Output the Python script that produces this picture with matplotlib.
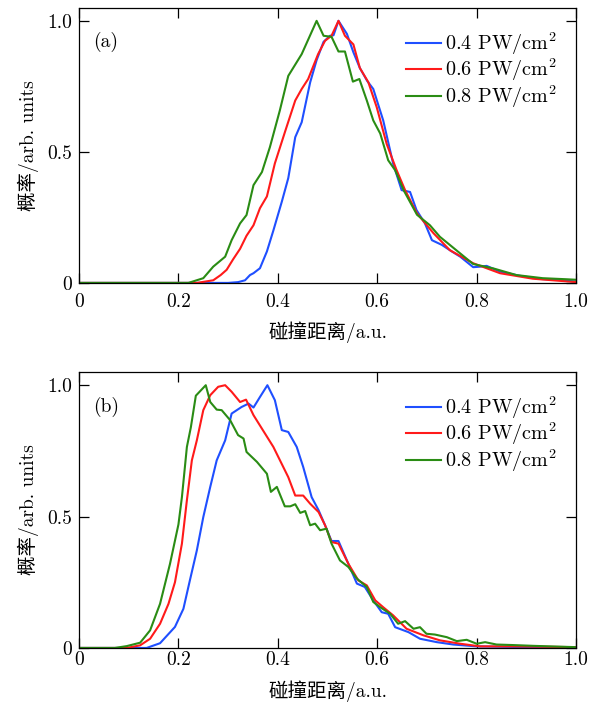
import matplotlib
matplotlib.use("Agg")
import matplotlib.pyplot as plt
from matplotlib.ticker import FuncFormatter

plt.rcParams['font.family'] = ['cmr10', 'Noto Sans CJK SC']
plt.rcParams['mathtext.fontset'] = 'cm'
plt.rcParams['axes.formatter.use_mathtext'] = True
plt.rcParams['font.size'] = 14

# 图 (a)
xa_04 = [0, 0.30, 0.32, 0.334, 0.344, 0.351, 0.364, 0.378, 0.391, 0.408, 0.421, 0.435, 0.448,
         0.465, 0.478, 0.492, 0.505, 0.512, 0.522, 0.539, 0.552, 0.565, 0.58, 0.592, 0.602,
         0.612, 0.632, 0.649, 0.666, 0.679, 0.696, 0.71, 0.73, 0.75, 0.767, 0.793, 0.807,
         0.82, 0.847, 0.887, 0.928, 0.968, 1.0]
ya_04 = [0, 0, 0.003, 0.01, 0.03, 0.037, 0.056, 0.12, 0.20, 0.31, 0.40, 0.556, 0.613,
         0.765, 0.85, 0.92, 0.943, 0.945, 1.0, 0.95, 0.88, 0.82, 0.77, 0.74, 0.68,
         0.62, 0.455, 0.354, 0.347, 0.278, 0.227, 0.163, 0.145, 0.12, 0.1, 0.06, 0.062,
         0.065, 0.043, 0.027, 0.015, 0.011, 0.005]

xa_06 = [0, 0.237, 0.27, 0.285, 0.297, 0.31, 0.324, 0.337, 0.351, 0.364, 0.378, 0.394, 0.415,
         0.435, 0.448, 0.461, 0.481, 0.495, 0.508, 0.522, 0.535, 0.552, 0.565, 0.582, 0.599,
         0.619, 0.639, 0.656, 0.68, 0.713, 0.746, 0.793, 0.847, 0.913, 1.0]
ya_06 = [0, 0, 0.01, 0.03, 0.05, 0.09, 0.13, 0.18, 0.22, 0.285, 0.33, 0.456, 0.58,
         0.696, 0.74, 0.778, 0.873, 0.924, 0.943, 1.0, 0.943, 0.91, 0.82, 0.766, 0.67,
         0.53, 0.43, 0.354, 0.265, 0.19, 0.125, 0.075, 0.037, 0.016, 0.003]

xa_08 = [0, 0.22, 0.25, 0.27, 0.294, 0.307, 0.324, 0.337, 0.351, 0.368, 0.384, 0.404, 0.421,
         0.448, 0.478, 0.492, 0.508, 0.522, 0.535, 0.551, 0.564, 0.579, 0.592, 0.606, 0.622,
         0.636, 0.653, 0.68, 0.706, 0.726, 0.746, 0.793, 0.834, 0.88, 0.933, 0.98, 1.0]
ya_08 = [0, 0, 0.018, 0.062, 0.1, 0.163, 0.227, 0.259, 0.373, 0.423, 0.518, 0.658, 0.79,
         0.873, 1.0, 0.943, 0.939, 0.883, 0.883, 0.768, 0.778, 0.696, 0.62, 0.57, 0.468,
         0.43, 0.354, 0.26, 0.22, 0.176, 0.145, 0.072, 0.055, 0.03, 0.018, 0.014, 0.012]

# 图 (b)
xb_04 = [0, 0.136, 0.163, 0.193, 0.21, 0.223, 0.237, 0.25, 0.264, 0.277, 0.294, 0.307, 0.327,
         0.341, 0.351, 0.364, 0.379, 0.394, 0.408, 0.421, 0.438, 0.451, 0.468, 0.482, 0.495,
         0.508, 0.522, 0.539, 0.559, 0.575, 0.592, 0.609, 0.622, 0.636, 0.663, 0.686, 0.72,
         0.753, 0.8, 0.9, 1.0]
yb_04 = [0, 0, 0.018, 0.08, 0.149, 0.257, 0.371, 0.498, 0.613, 0.714, 0.79, 0.892, 0.917,
         0.93, 0.915, 0.955, 1.0, 0.943, 0.829, 0.822, 0.765, 0.689, 0.574, 0.524, 0.467,
         0.407, 0.407, 0.333, 0.245, 0.232, 0.181, 0.136, 0.13, 0.079, 0.06, 0.035, 0.022,
         0.013, 0.006, 0.003, 0.002]

xb_06 = [0, 0.096, 0.123, 0.143, 0.163, 0.18, 0.193, 0.207, 0.217, 0.227, 0.237, 0.25, 0.264,
         0.28, 0.294, 0.307, 0.324, 0.336, 0.351, 0.391, 0.421, 0.435, 0.451, 0.465, 0.482,
         0.495, 0.508, 0.522, 0.542, 0.562, 0.579, 0.596, 0.612, 0.632, 0.659, 0.693, 0.726,
         0.767, 0.807, 0.873, 1.0]
yb_06 = [0, 0, 0.01, 0.035, 0.092, 0.168, 0.25, 0.397, 0.562, 0.714, 0.79, 0.905, 0.962,
         0.994, 1.0, 0.975, 0.936, 0.945, 0.886, 0.765, 0.65, 0.58, 0.58, 0.549, 0.517,
         0.467, 0.403, 0.397, 0.32, 0.257, 0.238, 0.181, 0.155, 0.124, 0.073, 0.048, 0.029,
         0.016, 0.006, 0.006, 0.003]

xb_08 = [0, 0.072, 0.096, 0.123, 0.143, 0.163, 0.183, 0.2, 0.207, 0.217, 0.225, 0.235, 0.255,
         0.264, 0.277, 0.287, 0.304, 0.32, 0.331, 0.337, 0.358, 0.378, 0.386, 0.398, 0.414,
         0.425, 0.435, 0.445, 0.455, 0.465, 0.475, 0.485, 0.498, 0.508, 0.525, 0.542, 0.559,
         0.579, 0.592, 0.606, 0.626, 0.642, 0.656, 0.673, 0.686, 0.699, 0.716, 0.74, 0.76,
         0.78, 0.8, 0.817, 0.84, 0.873, 0.914, 1.0]
yb_08 = [0, 0, 0.007, 0.02, 0.067, 0.168, 0.32, 0.47, 0.574, 0.765, 0.84, 0.96, 1.0,
         0.936, 0.907, 0.905, 0.867, 0.81, 0.797, 0.746, 0.708, 0.663, 0.594, 0.613, 0.539,
         0.539, 0.547, 0.514, 0.521, 0.467, 0.473, 0.448, 0.454, 0.397, 0.333, 0.308, 0.264,
         0.232, 0.175, 0.155, 0.13, 0.092, 0.102, 0.073, 0.079, 0.054, 0.051, 0.041, 0.026,
         0.031, 0.016, 0.022, 0.013, 0.011, 0.008, 0.003]

labels = ["0.4 PW/cm$^2$", "0.6 PW/cm$^2$", "0.8 PW/cm$^2$"]
colors = ["#1f4fff", "#ff1a1a", "#2a8c14"]

fig = plt.figure(figsize=(6.01, 7.02), dpi=100)
ax_a = fig.add_axes([0.1315, 0.597, 0.827, 0.392])
ax_b = fig.add_axes([0.1315, 0.077, 0.827, 0.393])

# (轴, 标签, 曲线, x刻度间距)
panels = [
    (ax_a, "(a)", [(xa_04, ya_04), (xa_06, ya_06), (xa_08, ya_08)], 7),
    (ax_b, "(b)", [(xb_04, yb_04), (xb_06, yb_06), (xb_08, yb_08)], 2.5),
]

fmt = FuncFormatter(lambda v, p: "0" if abs(v) < 1e-9 else f"{v:.1f}")

for ax, tag, series, xpad in panels:
    for (x, y), c, lab in zip(series, colors, labels):
        ax.plot(x, y, color=c, lw=1.5, label=lab)
    ax.set_xlim(0, 1.0)
    ax.set_ylim(0, 1.05)
    ax.set_xticks([0, 0.2, 0.4, 0.6, 0.8, 1.0])
    ax.set_yticks([0, 0.5, 1.0])
    ax.xaxis.set_major_formatter(fmt)
    ax.yaxis.set_major_formatter(fmt)
    ax.tick_params(direction="in", top=True, right=True, length=7, width=0.9, labelsize=14)
    ax.tick_params(axis="x", pad=xpad)
    ax.tick_params(axis="y", pad=5)
    for s in ax.spines.values():
        s.set_linewidth(0.9)
    ax.set_xlabel("碰撞距离/a.u.", fontsize=14, labelpad=8)
    ax.set_ylabel("概率/arb. units", fontsize=14, labelpad=6)
    ax.text(0.028, 0.875, tag, transform=ax.transAxes, fontsize=14, va="center", ha="left")
    ax.legend(loc="upper right", bbox_to_anchor=(0.99, 0.97), frameon=False, fontsize=14.5,
              handlelength=1.75, handletextpad=0.2, labelspacing=0.0, borderaxespad=0.3)

fig.savefig("out.png", dpi=100)
